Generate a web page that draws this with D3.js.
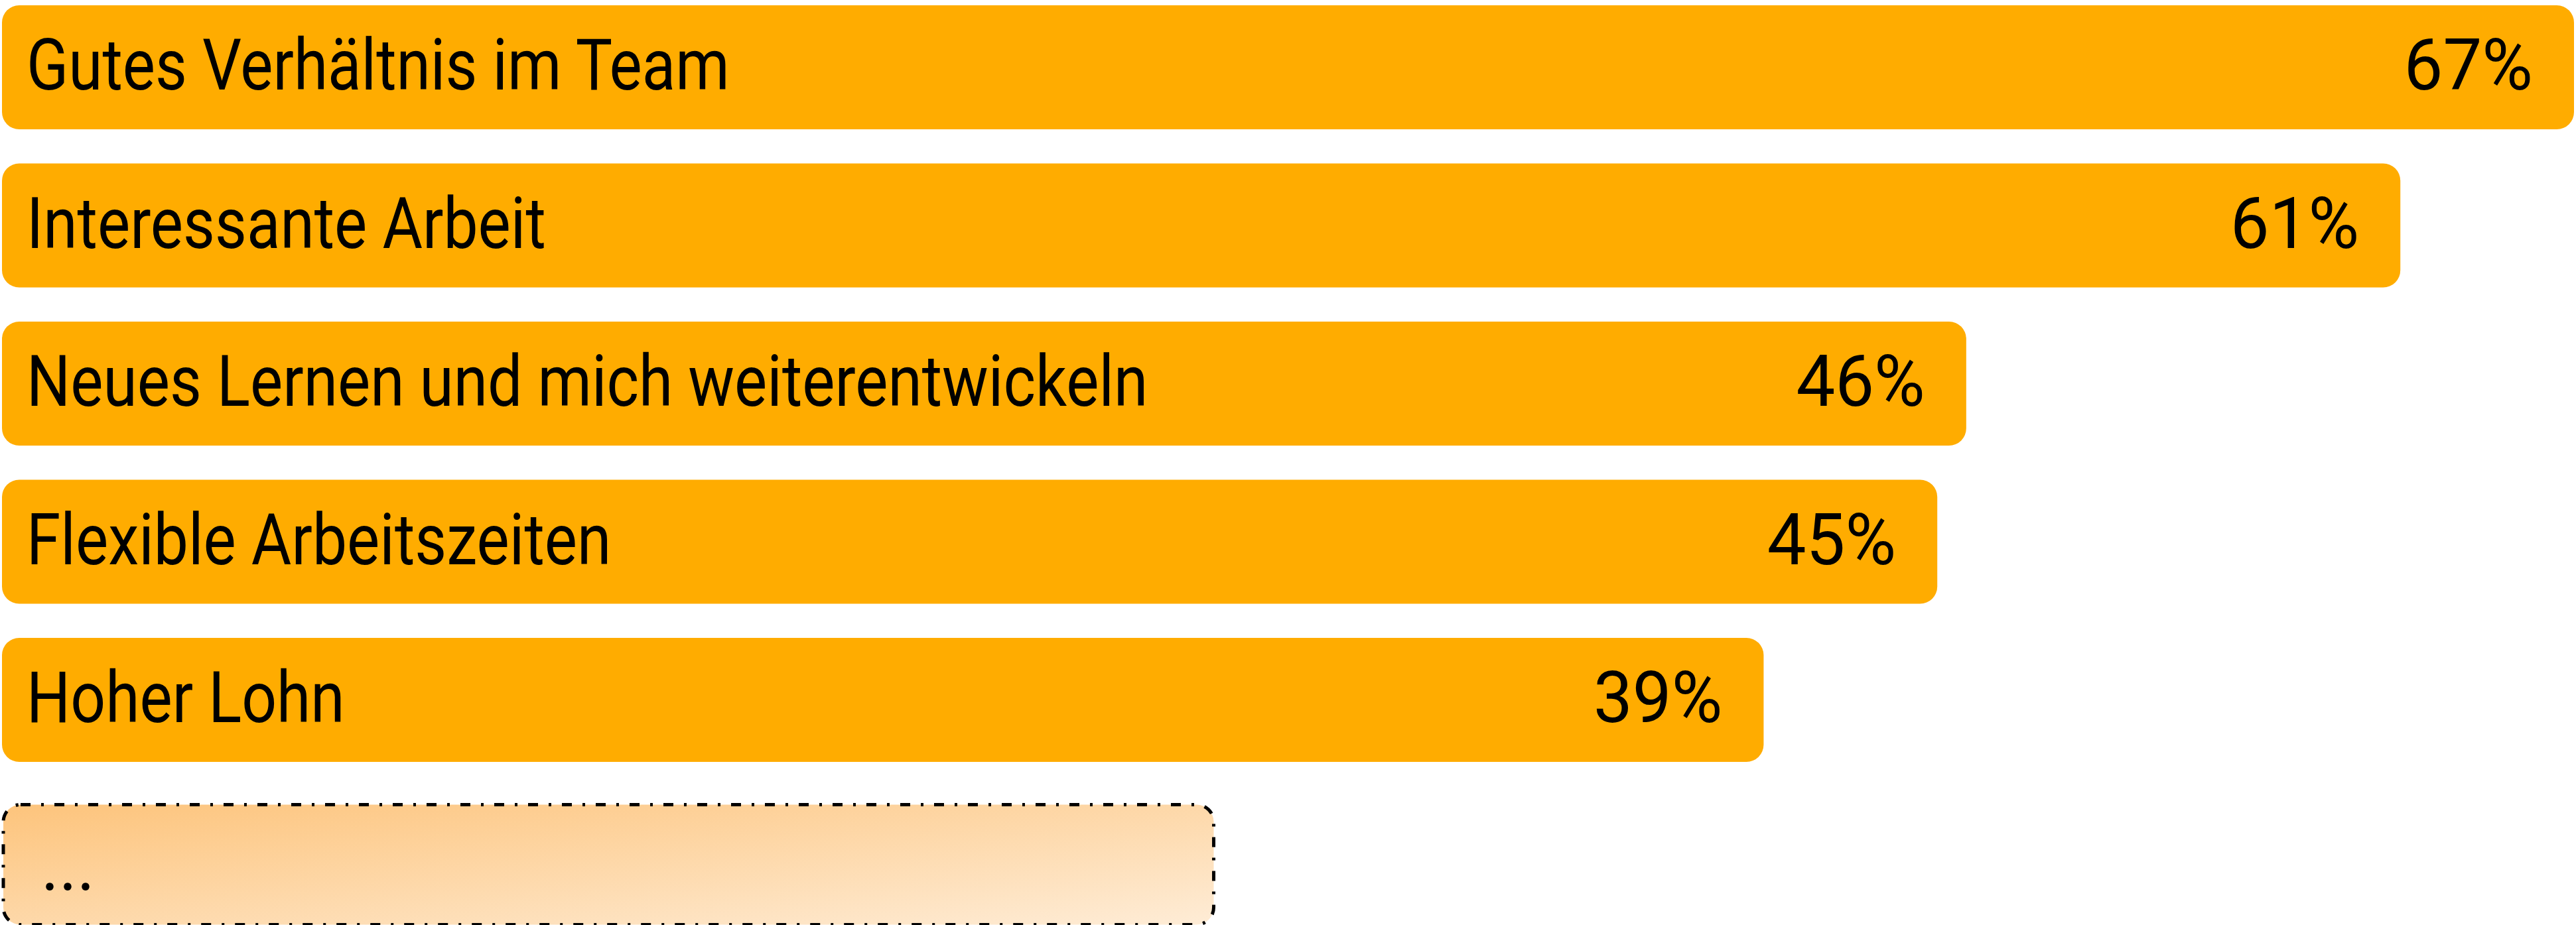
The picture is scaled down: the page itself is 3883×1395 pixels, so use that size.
<!DOCTYPE html>
<html>
<head>
<meta charset="utf-8">
<script src="https://cdn.jsdelivr.net/npm/d3@7"></script>
<style>
  html, body { margin: 0; padding: 0; background: #fff; }
  svg { display: block; }
</style>
</head>
<body>
<div id="chart"></div>
<script>
// Datos del gráfico
const categories = [
    "Gutes Verhältnis im Team",
    "Interessante Arbeit",
    "Neues Lernen und mich weiterentwickeln",
    "Flexible Arbeitszeiten",
    "Hoher Lohn"
];
const values = [67, 61, 46, 45, 39];
const valueLabels = ["67%", "61%", "46%", "45%", "39%"];
// Fila de relleno ("...") al final
const moreLabel = "...";
const moreValue = 20;

const width = 3883;
const height = 1395;
const fontFamily = "'Roboto', 'Liberation Sans', sans-serif";

const svg = d3.select("#chart")
    .append("svg")
    .attr("width", width)
    .attr("height", height);

// Escalas
const rows = categories.concat([moreLabel]);
const step = 238.5, barH = 187;
const y = d3.scaleBand()
    .domain(rows)
    .range([8, 8 + (rows.length - 1) * step + barH])
    .paddingInner((step - barH) / step)
    .paddingOuter(0);

const x = d3.scaleLinear()
    .domain([0, 67])
    .range([957, 3880]);

const left = 3;

// Degradado para la barra de "..."
const defs = svg.append("defs");
const grad = defs.append("linearGradient")
    .attr("id", "more-grad")
    .attr("x1", "0%").attr("y1", "0%")
    .attr("x2", "100%").attr("y2", "100%");
grad.append("stop").attr("offset", "0%").attr("stop-color", "#fdc47c");
grad.append("stop").attr("offset", "100%").attr("stop-color", "#feecd6");

// Barras
svg.selectAll(".bar")
    .data(values)
    .enter()
    .append("rect")
    .attr("class", "bar")
    .attr("x", left)
    .attr("y", (d, i) => y(categories[i]))
    .attr("width", d => x(d) - left)
    .attr("height", y.bandwidth())
    .attr("rx", 26)
    .attr("fill", "#ffac00");

// Etiquetas de categoría (texto un poco condensado)
svg.selectAll(".label")
    .data(categories)
    .enter()
    .append("text")
    .attr("class", "label")
    .attr("transform", d => `translate(40, ${y(d) + 127}) scale(0.86, 1)`)
    .attr("font-family", fontFamily)
    .attr("font-size", "108px")
    .attr("fill", "#000")
    .text(d => d);

// Etiquetas de valor
svg.selectAll(".value")
    .data(values)
    .enter()
    .append("text")
    .attr("class", "value")
    .attr("transform", (d, i) => `translate(${x(d) - 62}, ${y(categories[i]) + 127}) scale(0.97, 1)`)
    .attr("text-anchor", "end")
    .attr("font-family", fontFamily)
    .attr("font-size", "108px")
    .attr("fill", "#000")
    .text((d, i) => valueLabels[i]);

// Barra punteada final
const my = y(moreLabel) + 13;
svg.append("rect")
    .attr("x", left + 2)
    .attr("y", my)
    .attr("width", x(moreValue) - left - 2)
    .attr("height", y.bandwidth() - 6)
    .attr("rx", 26)
    .attr("fill", "url(#more-grad)")
    .attr("stroke", "#000")
    .attr("stroke-width", 5)
    .attr("stroke-dasharray", "15 16 4 16");

svg.append("text")
    .attr("transform", `translate(62, ${my + 128}) scale(0.95, 1)`)
    .attr("font-family", fontFamily)
    .attr("font-size", "108px")
    .attr("fill", "#000")
    .text(moreLabel);
</script>
</body>
</html>
